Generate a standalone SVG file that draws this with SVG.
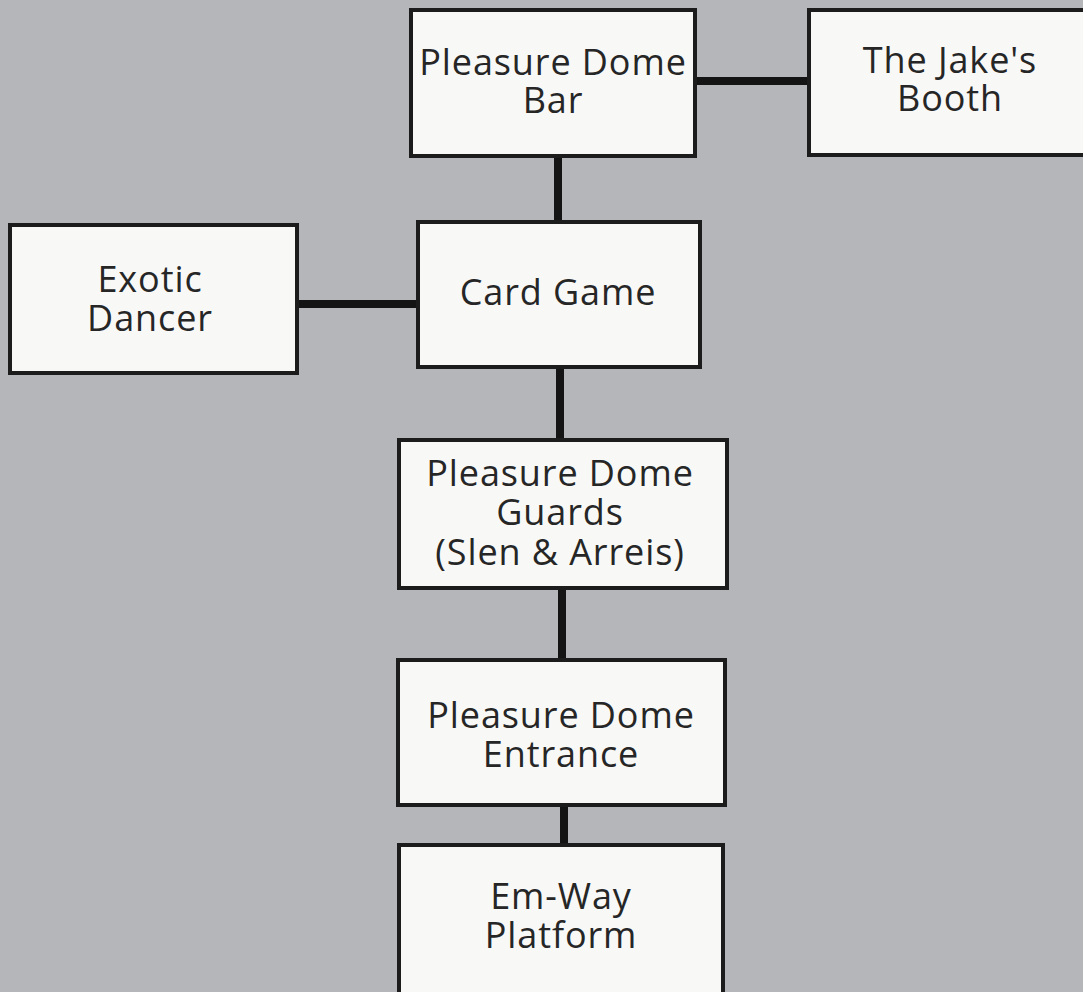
<svg xmlns="http://www.w3.org/2000/svg" width="1083" height="992" viewBox="0 0 1083 992">
<style>
.bg{fill:#b4b6b9}
.box{fill:#f8f8f6;stroke:#1c1c1c;stroke-width:4}
.lbl{font-family:"Open Sans","Noto Sans",sans-serif;font-size:36px;letter-spacing:0.9px;fill:#262626;text-anchor:middle}
.con{stroke:#141414;stroke-width:8;fill:none}
</style>
<rect class="bg" x="0" y="0" width="1083" height="992"/>
<g id="connectors">
<line class="con" x1="695" y1="81" x2="809" y2="81"/>
<line class="con" x1="558" y1="156" x2="558" y2="222"/>
<line class="con" x1="297" y1="304" x2="418" y2="304"/>
<line class="con" x1="560" y1="367" x2="560" y2="440"/>
<line class="con" x1="562" y1="588" x2="562" y2="660"/>
<line class="con" x1="564" y1="805" x2="564" y2="845"/>
</g>
<g id="bar">
<rect class="box" x="411" y="10" width="284" height="146"/>
<text class="lbl"><tspan x="553" y="75">Pleasure Dome</tspan><tspan x="553" y="113">Bar</tspan></text>
</g>
<g id="jake">
<rect class="box" x="809" y="10" width="290" height="145"/>
<text class="lbl"><tspan x="950" y="73">The Jake's</tspan><tspan x="950" y="111">Booth</tspan></text>
</g>
<g id="card">
<rect class="box" x="418" y="222" width="282" height="145"/>
<text class="lbl" x="558" y="305">Card Game</text>
</g>
<g id="exotic">
<rect class="box" x="10" y="225" width="287" height="148"/>
<text class="lbl"><tspan x="150" y="292">Exotic</tspan><tspan x="150" y="331">Dancer</tspan></text>
</g>
<g id="guards">
<rect class="box" x="399" y="440" width="328" height="148"/>
<text class="lbl"><tspan x="560" y="486">Pleasure Dome</tspan><tspan x="560" y="525">Guards</tspan><tspan x="560" y="565">(Slen &amp; Arreis)</tspan></text>
</g>
<g id="entrance">
<rect class="box" x="398" y="660" width="327" height="145"/>
<text class="lbl"><tspan x="561" y="728">Pleasure Dome</tspan><tspan x="561" y="767">Entrance</tspan></text>
</g>
<g id="emway">
<rect class="box" x="399" y="845" width="324" height="160"/>
<text class="lbl"><tspan x="561" y="909">Em-Way</tspan><tspan x="561" y="948">Platform</tspan></text>
</g>
</svg>
